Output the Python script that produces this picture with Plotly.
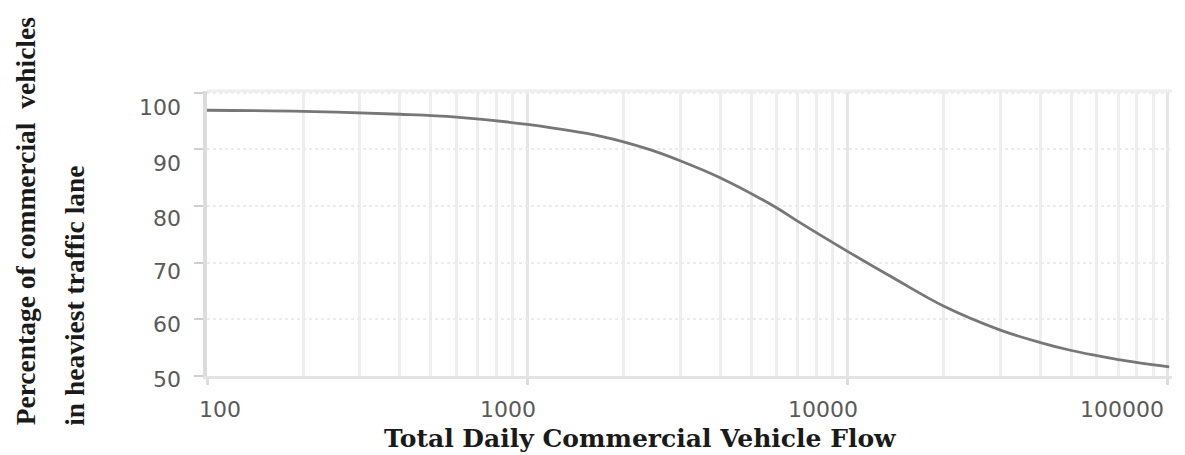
import math
import plotly.graph_objects as go

# Commercial vehicle flow (vehicles/day) and share in the heaviest lane (%)
flow = [100, 200, 400, 600, 1000, 1700, 2400, 3000, 4000, 6000, 7000,
        10000, 14000, 20000, 30000, 40000, 50000, 60000, 70000, 101000]
share = [96.9, 96.7, 96.2, 95.7, 94.4, 92.3, 90.0, 88.0, 85.0, 79.7, 77.3,
         72.0, 67.2, 62.3, 58.1, 55.9, 54.5, 53.6, 52.9, 51.6]

x_ticks = [100, 1000, 10000, 100000]
x_tick_text = ["100", "1000", "10000", "100000"]
y_ticks = [100, 90, 80, 70, 60, 50]
y_tick_text = ["100", "90", "80", "70", "60", "50"]

x_title = "Total Daily Commercial Vehicle Flow"
y_title_lines = ["Percentage of commercial  vehicles", "in heaviest traffic lane"]

minor_vals = [m * 10 ** d for d in range(2, 6) for m in range(2, 10)]

fig = go.Figure()
fig.add_trace(go.Scatter(
    x=flow, y=share, mode="lines",
    line=dict(color="#777777", width=2.8, shape="spline", smoothing=1.0),
    hoverinfo="skip", showlegend=False,
))

num_font = dict(family="DejaVu Sans", size=22, color="#5a5a5a")

annotations = []
# x tick labels (offsets follow the original placement of the labels)
x_shift = [13, -19, -25, -46]
for v, t, s in zip(x_ticks, x_tick_text, x_shift):
    annotations.append(dict(
        x=math.log10(v), xref="x", y=-0.119, yref="paper", text=t,
        showarrow=False, xanchor="center", yanchor="middle", xshift=s,
        font=num_font,
    ))
# y tick labels
y_shift = [-14.5, -14, -12, -9, -5, -3]
for v, t, s in zip(y_ticks, y_tick_text, y_shift):
    annotations.append(dict(
        x=0, xref="paper", y=v, yref="y", text=t, showarrow=False,
        xanchor="right", yanchor="middle", xshift=-24, yshift=s,
        font=num_font,
    ))
# axis titles
annotations.append(dict(
    x=0.4495, xref="paper", y=-0.221, yref="paper", text="<b>" + x_title + "</b>",
    showarrow=False, xanchor="center", yanchor="middle",
    font=dict(family="DejaVu Serif", size=25, color="#1a1a1a"),
))
for i, line in enumerate(y_title_lines):
    annotations.append(dict(
        x=[-0.1886, -0.1368][i], xref="paper", y=-0.182, yref="paper",
        text="<b>" + line + "</b>", textangle=-90, showarrow=False,
        xanchor="center", yanchor="bottom",
        font=dict(family="Liberation Serif", size=27.5, color="#1a1a1a"),
    ))

fig.update_layout(
    width=1185, height=455,
    margin=dict(l=207, r=13, t=91, b=79),
    paper_bgcolor="white", plot_bgcolor="white",
    annotations=annotations,
    xaxis=dict(
        type="log", range=[2, 5.013],
        tickvals=x_ticks, showticklabels=False,
        ticks="outside", ticklen=6, tickwidth=3, tickcolor="#dddddd",
        showgrid=True, gridcolor="#e6e6e6", gridwidth=3,
        minor=dict(tickvals=minor_vals, showgrid=True,
                   gridcolor="#eeeeee", gridwidth=3, ticks=""),
        showline=True, linecolor="#e3e3e3", linewidth=3,
        mirror=False, zeroline=False,
    ),
    yaxis=dict(
        range=[50, 100.3], tickvals=[50, 60, 70, 80, 90, 100],
        showticklabels=False,
        ticks="outside", ticklen=9, tickwidth=2, tickcolor="#d0d0d0",
        showgrid=True, gridcolor="#ececec", gridwidth=2, griddash="dot",
        showline=True, linecolor="#dcdcdc", linewidth=4,
        zeroline=False,
    ),
    shapes=[dict(type="line", xref="paper", yref="paper", x0=0, x1=1, y0=1, y1=1,
                 line=dict(color="#eeeeee", width=3))],
)

fig.write_html("out.html")
